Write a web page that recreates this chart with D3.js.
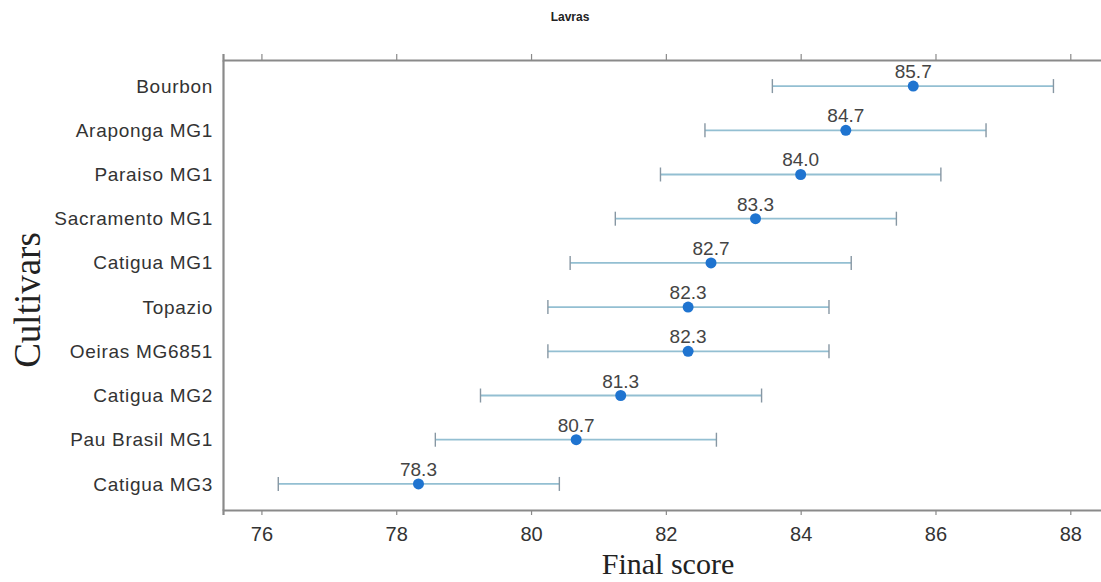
<!DOCTYPE html>
<html lang="en">
<head>
    <meta charset="UTF-8">
    <script src="https://cdn.jsdelivr.net/npm/d3@7"></script>
    <title>Lavras</title>
    <style>
        body {
            margin: 0;
            background: #ffffff;
            font-family: Arial, "Liberation Sans", sans-serif;
        }
        .tick text {
            font-family: Arial, "Liberation Sans", sans-serif;
            fill: #333;
        }
    </style>
</head>
<body>
    <div id="chart"></div>
    <script>
        const width = 1101;
        const height = 582;

        const cultivars = ["Bourbon", "Araponga MG1", "Paraiso MG1", "Sacramento MG1", "Catigua MG1",
            "Topazio", "Oeiras MG6851", "Catigua MG2", "Pau Brasil MG1", "Catigua MG3"];
        const means = [85.67, 84.67, 84.0, 83.33, 82.67, 82.33, 82.33, 81.33, 80.67, 78.33];
        const lower = [83.58, 82.58, 81.92, 81.25, 80.58, 80.25, 80.25, 79.25, 78.58, 76.25];
        const upper = [87.75, 86.75, 86.08, 85.42, 84.75, 84.42, 84.42, 83.42, 82.75, 80.42];
        const meanLabels = ["85.7", "84.7", "84.0", "83.3", "82.7", "82.3", "82.3", "81.3", "80.7", "78.3"];
        const xTicks = [76, 78, 80, 82, 84, 86, 88];

        const rows = cultivars.map((c, i) => ({
            name: c, mean: means[i], lo: lower[i], hi: upper[i], label: meanLabels[i]
        }));

        const margin = {left: 223, top: 60, right: -3, bottom: 72};

        const svg = d3.select("#chart").append("svg")
            .attr("width", width)
            .attr("height", height);

        const x = d3.scaleLinear()
            .domain([75.43, 88.5])
            .range([margin.left, width - margin.right]);

        const y = d3.scalePoint()
            .domain(cultivars)
            .range([margin.top, height - margin.bottom])
            .padding(0.59);

        const axisColor = "#8a8a8a";
        const bottomY = height - margin.bottom;

        // bottom axis
        const gx = svg.append("g")
            .attr("transform", `translate(0,${bottomY})`)
            .call(d3.axisBottom(x).tickValues(xTicks).tickSize(5).tickPadding(12));
        gx.selectAll("text").style("font-size", "20px");

        // top axis (ticks only)
        const gt = svg.append("g")
            .attr("transform", `translate(0,${margin.top})`)
            .call(d3.axisTop(x).tickValues(xTicks).tickSize(6).tickFormat(""));

        // left axis
        const gy = svg.append("g")
            .attr("transform", `translate(${margin.left},0)`)
            .call(d3.axisLeft(y).tickSize(0).tickPadding(10));
        gy.selectAll("text")
            .style("font-size", "19px")
            .style("letter-spacing", "0.7px");

        [gx, gt, gy].forEach(g => {
            g.select(".domain").attr("stroke", axisColor).attr("stroke-width", 2.2);
            g.selectAll(".tick line").attr("stroke", axisColor).attr("stroke-width", 1.2);
        });

        // error bars
        const barColor = "#93bfd2";
        const capColor = "#8797a3";
        const bars = svg.append("g").selectAll("g")
            .data(rows)
            .enter().append("g");

        bars.append("line")
            .attr("x1", d => x(d.lo))
            .attr("x2", d => x(d.hi))
            .attr("y1", d => y(d.name))
            .attr("y2", d => y(d.name))
            .attr("stroke", barColor)
            .attr("stroke-width", 1.8);

        bars.append("line")
            .attr("x1", d => x(d.lo))
            .attr("x2", d => x(d.lo))
            .attr("y1", d => y(d.name) - 7)
            .attr("y2", d => y(d.name) + 7)
            .attr("stroke", capColor)
            .attr("stroke-width", 1.4);

        bars.append("line")
            .attr("x1", d => x(d.hi))
            .attr("x2", d => x(d.hi))
            .attr("y1", d => y(d.name) - 7)
            .attr("y2", d => y(d.name) + 7)
            .attr("stroke", capColor)
            .attr("stroke-width", 1.4);

        bars.append("circle")
            .attr("cx", d => x(d.mean))
            .attr("cy", d => y(d.name))
            .attr("r", 5.5)
            .attr("fill", "#1f74d0");

        bars.append("text")
            .attr("x", d => x(d.mean))
            .attr("y", d => y(d.name) - 8)
            .attr("text-anchor", "middle")
            .style("font-size", "19px")
            .attr("fill", "#444")
            .text(d => d.label);

        // title
        svg.append("text")
            .attr("x", 570)
            .attr("y", 21)
            .attr("text-anchor", "middle")
            .style("font-size", "12px")
            .style("font-weight", "bold")
            .attr("fill", "#222")
            .text("Lavras");

        // axis titles
        svg.append("text")
            .attr("x", 668)
            .attr("y", 574)
            .attr("text-anchor", "middle")
            .style("font-family", "'Liberation Serif', 'Times New Roman', serif")
            .style("font-size", "30px")
            .attr("fill", "#222")
            .text("Final score");

        svg.append("text")
            .attr("transform", "translate(40,300) rotate(-90)")
            .attr("text-anchor", "middle")
            .style("font-family", "'Liberation Serif', 'Times New Roman', serif")
            .style("font-size", "37px")
            .attr("fill", "#222")
            .text("Cultivars");
    </script>
</body>
</html>
